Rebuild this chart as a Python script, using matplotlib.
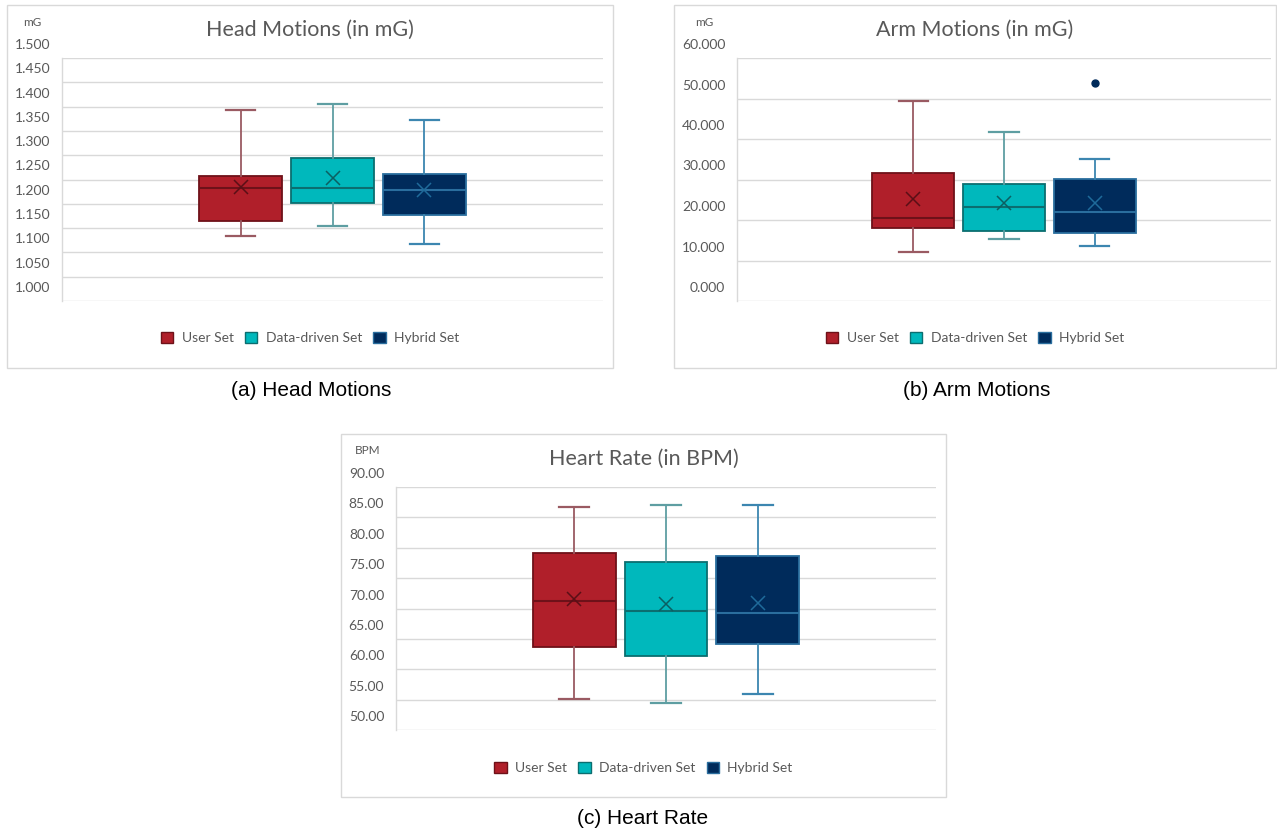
import matplotlib
matplotlib.use("Agg")
import matplotlib.pyplot as plt
import matplotlib.transforms as mtransforms
from matplotlib.patches import Rectangle, Patch

# ---------------- data ----------------
series = ["User Set", "Data-driven Set", "Hybrid Set"]

head_whislo = [1.133, 1.155, 1.117]
head_q1 = [1.164, 1.201, 1.176]
head_med = [1.232, 1.233, 1.229]
head_q3 = [1.258, 1.294, 1.262]
head_whishi = [1.394, 1.405, 1.372]
head_mean = [1.234, 1.254, 1.229]
head_fliers = [[], [], []]
head_ticks = [1.000, 1.050, 1.100, 1.150, 1.200, 1.250, 1.300, 1.350, 1.400, 1.450, 1.500]

arm_whislo = [12.1, 15.4, 13.6]
arm_q1 = [18.0, 17.3, 16.9]
arm_med = [20.4, 23.2, 21.9]
arm_q3 = [31.6, 28.8, 30.2]
arm_whishi = [49.5, 41.8, 35.0]
arm_mean = [25.1, 24.3, 24.3]
arm_fliers = [[], [], [53.8]]
arm_ticks = [0, 10, 20, 30, 40, 50, 60]

hr_whislo = [55.1, 54.5, 56.0]
hr_q1 = [63.7, 62.2, 64.2]
hr_med = [71.2, 69.6, 69.3]
hr_q3 = [79.2, 77.7, 78.6]
hr_whishi = [86.7, 87.0, 87.0]
hr_mean = [71.6, 70.8, 70.9]
hr_fliers = [[], [], []]
hr_ticks = [50, 55, 60, 65, 70, 75, 80, 85, 90]

# ---------------- style ----------------
face = ["#B01F2A", "#00B8BC", "#002B5B"]
edge = ["#6E1119", "#0B6E70", "#2A6E9E"]
whisk = ["#9A5A62", "#5E9EA2", "#3C86B0"]
meanc = ["#5A0F16", "#0B5F62", "#1F6A9A"]
TXT = "#595959"
GRID = "#D9D9D9"
FONT = "Lato"

W, H = 1277, 831
fig = plt.figure(figsize=(W / 100, H / 100), dpi=100)
fig.patch.set_facecolor("white")


def frac_rect(x0, y0, x1, y1):
    return [x0 / W, 1 - y1 / H, (x1 - x0) / W, (y1 - y0) / H]


def panel(border, plot, title, unit, unit_xy, ylo, yhi, ticks, fmt,
          whislo, q1, med, q3, whishi, mean, fliers, legend_y, caption, cap_xy):
    bx0, by0, bx1, by1 = border
    fig.add_artist(Rectangle((bx0 / W, 1 - by1 / H), (bx1 - bx0) / W, (by1 - by0) / H,
                             transform=fig.transFigure, fill=False, ec=GRID, lw=1.0))
    ax = fig.add_axes(frac_rect(*plot))
    stats = []
    for i in range(3):
        stats.append(dict(med=med[i], q1=q1[i], q3=q3[i], whislo=whislo[i],
                          whishi=whishi[i], mean=mean[i], fliers=fliers[i], label=series[i]))
    pos = [0.33, 0.5, 0.67]
    for i in range(3):
        ax.bxp([stats[i]], positions=[pos[i]], widths=[0.153], capwidths=[0.055],
               showmeans=True, patch_artist=True, showfliers=True,
               boxprops=dict(facecolor=face[i], edgecolor=edge[i], linewidth=1.3),
               medianprops=dict(color=edge[i], linewidth=1.5),
               whiskerprops=dict(color=whisk[i], linewidth=1.3),
               capprops=dict(color=whisk[i], linewidth=1.6),
               meanprops=dict(marker="x", markeredgecolor=meanc[i], markersize=10,
                              markeredgewidth=1.1),
               flierprops=dict(marker="o", markerfacecolor=face[i], markeredgecolor=face[i],
                               markersize=5))
    ax.set_xlim(0, 1)
    ax.set_ylim(ylo, yhi)
    ax.set_xticks([])
    ax.set_yticks(ticks)
    ax.set_yticklabels([fmt.format(t) for t in ticks], fontsize=10, color=TXT, family=FONT)
    ax.tick_params(axis="y", length=0, pad=8.5)
    off = mtransforms.ScaledTranslation(0, 0.14, fig.dpi_scale_trans)
    for lab in ax.get_yticklabels():
        lab.set_transform(lab.get_transform() + off)
    ax.grid(axis="y", color=GRID, linewidth=1.0)
    ax.set_axisbelow(True)
    for s in ["top", "right", "bottom"]:
        ax.spines[s].set_visible(False)
    ax.spines["left"].set_color(GRID)
    ax.spines["left"].set_linewidth(1.0)

    fig.text(((bx0 + bx1) / 2) / W, 1 - (by0 + 25) / H, title, ha="center", va="center",
             fontsize=15.5, color=TXT, family=FONT)
    fig.text(unit_xy[0] / W, 1 - unit_xy[1] / H, unit, ha="center", va="center",
             fontsize=8.5, color=TXT, family=FONT)
    handles = [Patch(facecolor=face[i], edgecolor=edge[i], linewidth=1.0, label=series[i])
               for i in range(3)]
    leg = fig.legend(handles=handles, loc="center", bbox_to_anchor=((bx0 + bx1) / 2 / W, 1 - legend_y / H),
                     ncol=3, frameon=False, prop=dict(family=FONT, size=10), handlelength=0.9,
                     handleheight=0.9, handletextpad=0.6, columnspacing=0.8)
    for t in leg.get_texts():
        t.set_color(TXT)
    fig.text(cap_xy[0] / W, 1 - cap_xy[1] / H, caption, ha="center", va="center",
             fontsize=15, color="black", family="Liberation Sans")
    return ax


panel((7, 5, 613, 368), (62, 58, 603, 301), "Head Motions (in mG)", "mG", (32, 23),
      1.0, 1.5, head_ticks, "{:.3f}",
      head_whislo, head_q1, head_med, head_q3, head_whishi, head_mean, head_fliers,
      338, "(a) Head Motions", (311, 390))

panel((674, 5, 1276, 368), (737, 58, 1271, 301), "Arm Motions (in mG)", "mG", (704, 23),
      0, 60, arm_ticks, "{:.3f}",
      arm_whislo, arm_q1, arm_med, arm_q3, arm_whishi, arm_mean, arm_fliers,
      338, "(b) Arm Motions", (977, 390))

panel((341, 434, 946, 797), (396, 487, 936, 730), "Heart Rate (in BPM)", "BPM", (368, 450),
      50, 90, hr_ticks, "{:.2f}",
      hr_whislo, hr_q1, hr_med, hr_q3, hr_whishi, hr_mean, hr_fliers,
      768, "(c) Heart Rate", (643, 819))

fig.savefig("out.png", dpi=100, facecolor="white")
